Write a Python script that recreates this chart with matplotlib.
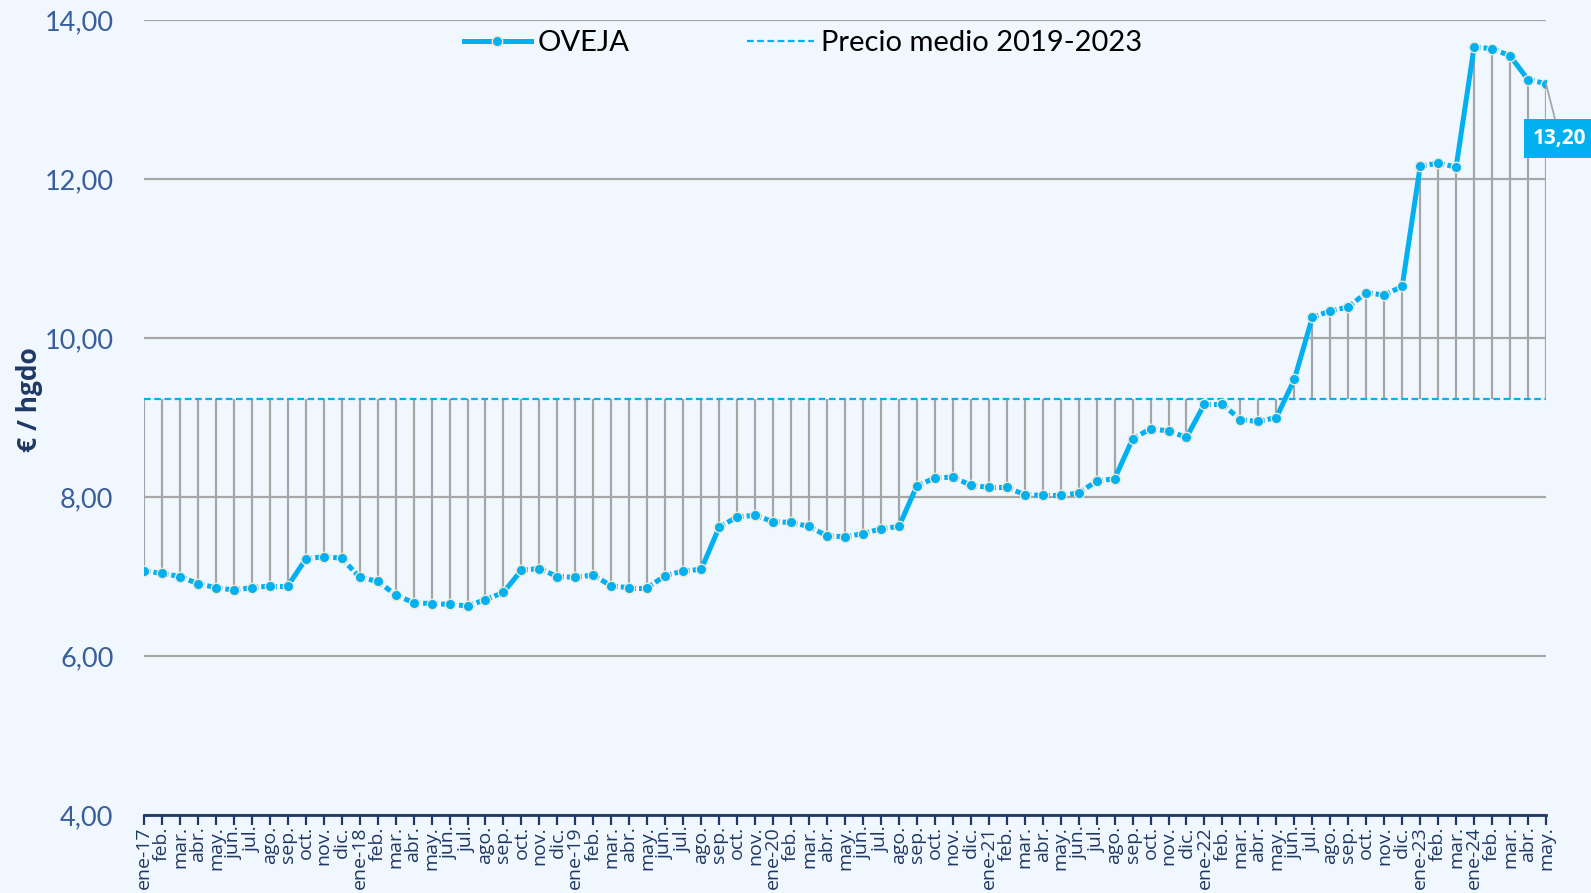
import numpy as np
import matplotlib.pyplot as plt
from matplotlib.lines import Line2D

# month labels as they appear on the axis (dic-19 and abr..dic-23 are absent in the source)
meses = ['feb.', 'mar.', 'abr.', 'may.', 'jun.', 'jul.', 'ago.', 'sep.', 'oct.', 'nov.', 'dic.']
etiquetas = (['ene-17'] + meses + ['ene-18'] + meses + ['ene-19'] + meses[:-1]
             + ['ene-20'] + meses + ['ene-21'] + meses + ['ene-22'] + meses
             + ['ene-23', 'feb.', 'mar.', 'ene-24', 'feb.', 'mar.', 'abr.', 'may.'])

precio_2017 = [7.07, 7.04, 7.00, 6.91, 6.86, 6.83, 6.86, 6.88, 6.88, 7.22, 7.25, 7.23]
precio_2018 = [6.99, 6.94, 6.77, 6.67, 6.66, 6.65, 6.63, 6.71, 6.80, 7.08, 7.10, 7.00]
precio_2019 = [6.99, 7.02, 6.88, 6.86, 6.86, 7.01, 7.07, 7.09, 7.62, 7.75, 7.77]
precio_2020 = [7.69, 7.68, 7.63, 7.51, 7.50, 7.54, 7.60, 7.63, 8.14, 8.24, 8.25, 8.15]
precio_2021 = [8.12, 8.12, 8.03, 8.02, 8.02, 8.05, 8.20, 8.23, 8.73, 8.86, 8.83, 8.75]
precio_2022 = [9.17, 9.17, 8.97, 8.95, 9.00, 9.48, 10.26, 10.34, 10.39, 10.57, 10.54, 10.65]
precio_2023 = [12.16, 12.20, 12.15]
precio_2024 = [13.66, 13.64, 13.55, 13.25, 13.20]

precio_oveja = (precio_2017 + precio_2018 + precio_2019 + precio_2020
                + precio_2021 + precio_2022 + precio_2023 + precio_2024)
PRECIO_MEDIO = 9.23
y_ticks = [4, 6, 8, 10, 12, 14]

BG = '#F0F7FE'
CIAN = '#00B0F0'
GRIS = '#A6A6A6'
NAVY = '#1F3864'
AZUL = '#3A5E9C'
BORDE = '#EDE8D2'

x = np.arange(len(precio_oveja))
y = np.array(precio_oveja)

fig = plt.figure(figsize=(15.91, 8.93), dpi=100, facecolor=BG)
ax = fig.add_axes([0.0905, 0.0873, 0.8812, 0.8903])
ax.set_facecolor(BG)
ax.set_xlim(x[0], x[-1])
ax.set_ylim(4, 14)

# axes / grid
ax.set_yticks(y_ticks)
ax.set_yticklabels([f"{v:.2f}".replace('.', ',') for v in y_ticks],
                   family='Lato', fontsize=19.5, color=AZUL)
ax.grid(axis='y', color=GRIS, lw=1.6, zorder=0)
ax.set_axisbelow(True)
for s in ['left', 'right', 'top']:
    ax.spines[s].set_visible(False)
ax.spines['bottom'].set_color(NAVY)
ax.spines['bottom'].set_linewidth(2)
ax.tick_params(axis='y', length=0, pad=22)
ax.set_xticks(x)
ax.set_xticklabels(etiquetas, rotation=90, family='Open Sans', fontsize=14, color=NAVY)
ax.tick_params(axis='x', length=7, width=1.6, color=NAVY, pad=1)

# drop lines to the average and the average itself
ax.vlines(x, PRECIO_MEDIO, y, color=GRIS, lw=1.6, zorder=1)
ax.axhline(PRECIO_MEDIO, color=CIAN, lw=1.6, ls=(0, (3, 1.6)), zorder=2)

# series: short steps dashed, big jumps solid (as in the original)
for i in range(len(x) - 1):
    salto = abs(y[i + 1] - y[i])
    ls = '-' if salto > 0.26 else (0, (1.3, 0.6))
    ax.plot(x[i:i + 2], y[i:i + 2], color=CIAN, lw=3.6, ls=ls,
            solid_capstyle='round', dash_capstyle='butt', zorder=3)
ax.plot(x, y, ls='none', marker='o', ms=7.5, mfc=CIAN, mec=BORDE, mew=1.0, zorder=4)

# last value label
ax.annotate(f"{y[-1]:.2f}".replace('.', ','), xy=(x[-1], y[-1]), xytext=(14, -55),
            textcoords='offset pixels', ha='center', va='center', color='white',
            fontweight='bold', fontsize=15, family='Open Sans',
            bbox=dict(boxstyle='square,pad=0.42', fc=CIAN, ec='none'),
            arrowprops=dict(arrowstyle='-', color=GRIS, lw=1.3, shrinkA=0, shrinkB=0),
            annotation_clip=False, zorder=5)

# legend
handles = [
    Line2D([], [], color=CIAN, lw=3.6, marker='o', ms=7.5, mfc=CIAN, mec=BORDE,
           mew=1.0, label='OVEJA'),
    Line2D([], [], color=CIAN, lw=1.6, ls=(0, (3, 1.6)), label='Precio medio 2019-2023'),
]
ax.legend(handles=handles, loc='center', bbox_to_anchor=(0.47, 0.971), ncol=2,
          frameon=False, handlelength=2.3, handletextpad=0.25, columnspacing=4.0,
          prop={'family': 'Lato', 'size': 21})

fig.text(30 / 1591, 0.553, '€ / hgdo', rotation=90, ha='center', va='center',
         family='Open Sans', fontweight='bold', fontsize=19, color=NAVY)

fig.savefig('out.png', dpi=100, facecolor=BG)
